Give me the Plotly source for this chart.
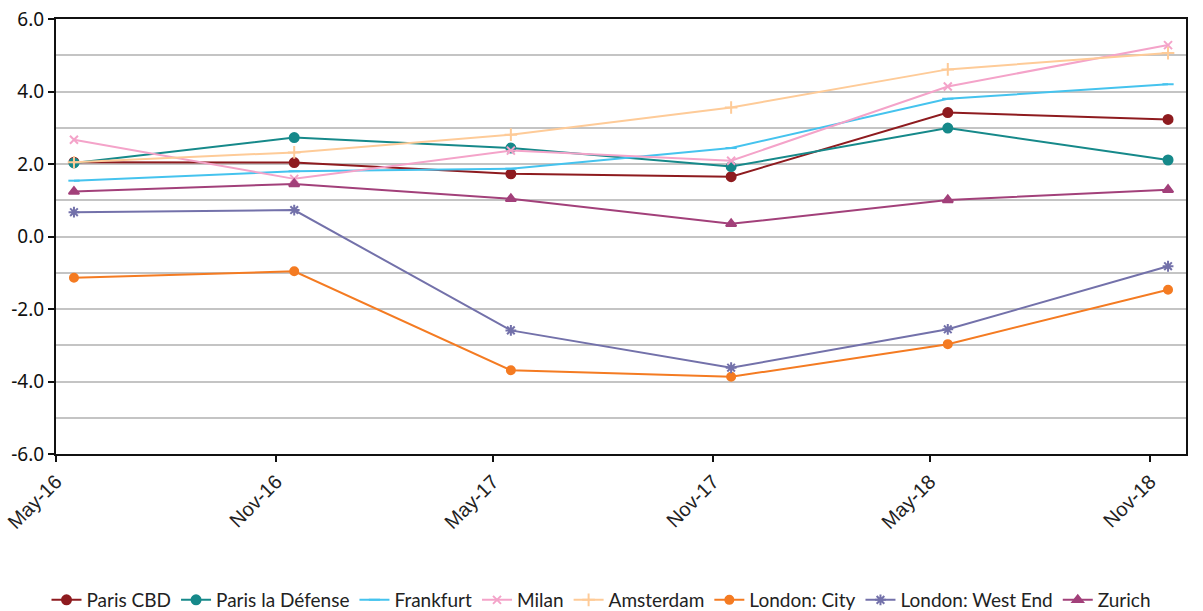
import plotly.graph_objects as go

# Survey dates (mid-month) and their axis labels
dates = ["2016-05-16", "2016-11-16", "2017-05-16", "2017-11-16", "2018-05-16", "2018-11-16"]
tick_dates = ["2016-05-01", "2016-11-01", "2017-05-01", "2017-11-01", "2018-05-01", "2018-11-01"]
tick_labels = ["May-16", "Nov-16", "May-17", "Nov-17", "May-18", "Nov-18"]
y_ticks = [-6, -4, -2, 0, 2, 4, 6]
y_tick_labels = ["-6.0", "-4.0", "-2.0", "0.0", "2.0", "4.0", "6.0"]

paris_cbd = [2.05, 2.04, 1.73, 1.65, 3.42, 3.23]
paris_la_defense = [2.03, 2.73, 2.44, 1.93, 2.99, 2.11]
frankfurt = [1.54, 1.80, 1.87, 2.44, 3.80, 4.20]
milan = [2.67, 1.59, 2.37, 2.09, 4.14, 5.28]
amsterdam = [2.05, 2.32, 2.81, 3.56, 4.61, 5.06]
london_city = [-1.14, -0.96, -3.69, -3.87, -2.97, -1.47]
london_west_end = [0.67, 0.73, -2.59, -3.62, -2.56, -0.82]
zurich = [1.24, 1.45, 1.04, 0.35, 1.01, 1.29]

series = [
    ("Paris CBD", paris_cbd, "#8e1b1f", "circle", 9),
    ("Paris la Défense", paris_la_defense, "#16898a", "circle", 9),
    ("Frankfurt", frankfurt, "#45c3ee", "line-ew-open", 8),
    ("Milan", milan, "#f4a3c9", "x-thin-open", 8),
    ("Amsterdam", amsterdam, "#fecb98", "cross-thin-open", 9),
    ("London: City", london_city, "#f47b22", "circle", 8),
    ("London: West End", london_west_end, "#7371aa", "asterisk-open", 9),
    ("Zurich", zurich, "#a2407a", "triangle-up", 9),
]

fig = go.Figure()
for name, values, color, symbol, size in series:
    fig.add_trace(go.Scatter(
        x=dates, y=values, name=name, mode="lines+markers",
        line=dict(color=color, width=2),
        marker=dict(symbol=symbol, size=size, color=color,
                    line=dict(color=color, width=2)),
    ))

fig.update_layout(
    width=1203, height=611,
    paper_bgcolor="white", plot_bgcolor="white",
    margin=dict(l=56, r=17, t=19, b=157, autoexpand=False),
    font=dict(family="Noto Sans, Open Sans, sans-serif", color="#222222"),
    legend=dict(
        orientation="h", xref="container", x=0.5, xanchor="center",
        yref="container", y=0.018, yanchor="middle",
        font=dict(family="Lato, Noto Sans, sans-serif", size=19, color="#222222"),
        itemwidth=30, tracegroupgap=0, itemclick=False,
        entrywidthmode="pixels", entrywidth=0,
    ),
    showlegend=True,
)

fig.update_xaxes(
    type="date", range=["2016-05-01", "2018-12-01"],
    tickvals=tick_dates, ticktext=tick_labels, tickangle=-45,
    tickfont=dict(family="Liberation Sans Narrow, Liberation Sans, sans-serif", size=20, color="#222222"),
    showgrid=False, showline=True, linecolor="#111111", linewidth=2,
    mirror=True, ticks="outside", ticklen=6, tickcolor="#111111", tickwidth=2,
    zeroline=False, automargin=False,
)
fig.update_yaxes(
    range=[-6, 6], tickvals=y_ticks, ticktext=y_tick_labels,
    tickfont=dict(size=19, color="#111111"),
    showgrid=True, gridcolor="#c4c4c4", gridwidth=2,
    minor=dict(dtick=1, showgrid=True, gridcolor="#c4c4c4", gridwidth=2),
    showline=True, linecolor="#111111", linewidth=2, mirror=True,
    ticks="outside", ticklen=6, tickcolor="#111111", tickwidth=2,
    zeroline=False, automargin=False,
)

fig.write_html("out.html")
